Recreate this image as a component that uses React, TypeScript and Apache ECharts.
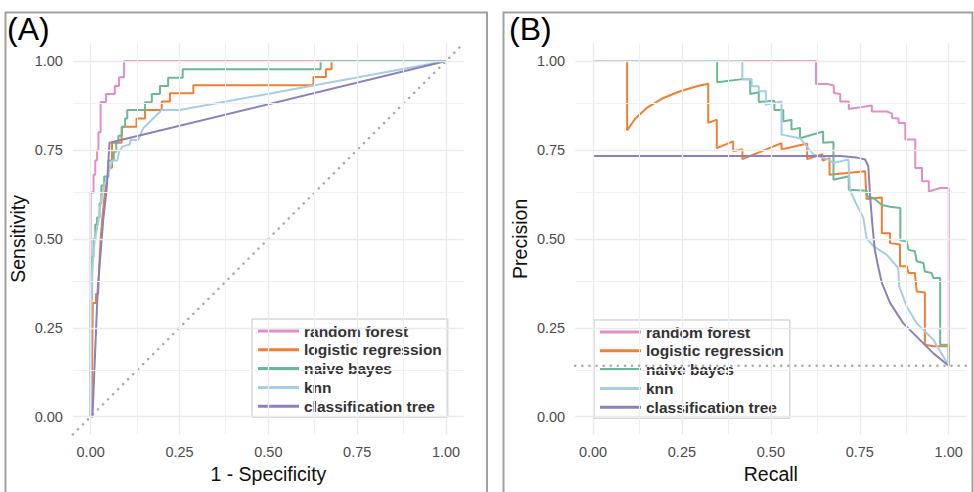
import React, { useEffect, useRef } from "react";
import * as echarts from "echarts";

const modelNames = ["random forest", "logistic regression", "naive bayes", "knn", "classification tree"];
const modelColors = ["#df8fc3", "#f07f34", "#6db894", "#a6cde3", "#8e80ba"];

const majorTicks = [0, 0.25, 0.5, 0.75, 1];
const minorTicks = [0.125, 0.375, 0.625, 0.875];
const prBaseline = 0.143;

// Panel A: ROC curves [1 - specificity, sensitivity]
const rocRf: [number, number][] = [
  [0, 0], [0, 0.63], [0.008, 0.63], [0.008, 0.68], [0.013, 0.68], [0.013, 0.72], [0.018, 0.72], [0.018, 0.75],
  [0.022, 0.75], [0.022, 0.8], [0.028, 0.8], [0.028, 0.885], [0.043, 0.885], [0.043, 0.907], [0.068, 0.907],
  [0.068, 0.93], [0.08, 0.93], [0.08, 0.954], [0.094, 0.954], [0.094, 1], [1, 1],
];
const rocLogit: [number, number][] = [
  [0, 0], [0.003, 0.05], [0.006, 0.32], [0.015, 0.32], [0.015, 0.345], [0.021, 0.345], [0.024, 0.42], [0.028, 0.5],
  [0.033, 0.56], [0.04, 0.63], [0.048, 0.68], [0.052, 0.7], [0.06, 0.7], [0.06, 0.77], [0.087, 0.77], [0.087, 0.815],
  [0.129, 0.815], [0.129, 0.838], [0.153, 0.838], [0.153, 0.862], [0.2, 0.862], [0.2, 0.886], [0.223, 0.886],
  [0.223, 0.909], [0.289, 0.909], [0.289, 0.932], [0.627, 0.932], [0.627, 0.955], [0.662, 0.955], [0.662, 0.977],
  [0.678, 0.977], [0.678, 1], [1, 1],
];
const rocNb: [number, number][] = [
  [0, 0], [0, 0.33], [0.004, 0.33], [0.004, 0.45], [0.008, 0.45], [0.008, 0.5], [0.013, 0.5], [0.013, 0.54],
  [0.018, 0.54], [0.018, 0.56], [0.025, 0.56], [0.025, 0.6], [0.03, 0.6], [0.03, 0.65], [0.038, 0.65], [0.038, 0.675],
  [0.05, 0.675], [0.05, 0.72], [0.065, 0.72], [0.065, 0.745], [0.072, 0.745], [0.072, 0.77], [0.078, 0.77],
  [0.078, 0.79], [0.088, 0.79], [0.088, 0.815], [0.097, 0.815], [0.097, 0.838], [0.103, 0.838], [0.103, 0.862],
  [0.153, 0.862], [0.153, 0.884], [0.172, 0.884], [0.172, 0.907], [0.195, 0.907], [0.195, 0.93], [0.218, 0.93],
  [0.218, 0.953], [0.259, 0.953], [0.259, 0.977], [0.647, 0.977], [0.647, 1], [1, 1],
];
const rocKnn: [number, number][] = [
  [0, 0], [0.002, 0.3], [0.004, 0.4], [0.008, 0.46], [0.012, 0.5], [0.02, 0.54], [0.028, 0.6], [0.035, 0.64],
  [0.045, 0.67], [0.055, 0.7], [0.06, 0.72], [0.075, 0.72], [0.08, 0.745], [0.09, 0.76], [0.11, 0.765],
  [0.112, 0.778], [0.134, 0.778], [0.148, 0.811], [0.2, 0.862], [0.251, 0.862], [1, 1],
];
const rocTree: [number, number][] = [
  [0, 0], [0.005, 0], [0.02, 0.36], [0.035, 0.55], [0.045, 0.64], [0.053, 0.77], [1, 1],
];

// Panel B: precision-recall curves [recall, precision]
const prRf: [number, number][] = [
  [0, 1], [0.627, 1], [0.627, 0.935], [0.66, 0.935], [0.677, 0.931], [0.677, 0.91], [0.695, 0.907], [0.695, 0.886],
  [0.719, 0.886], [0.719, 0.865], [0.784, 0.875], [0.784, 0.858], [0.827, 0.858], [0.841, 0.852], [0.841, 0.84],
  [0.859, 0.838], [0.859, 0.826], [0.878, 0.826], [0.878, 0.779], [0.906, 0.779], [0.906, 0.699], [0.925, 0.699],
  [0.925, 0.662], [0.944, 0.662], [0.944, 0.633], [0.976, 0.643], [1, 0.643], [1, 0.143],
];
const prLogit: [number, number][] = [
  [0, 1], [0.096, 1], [0.096, 0.805], [0.118, 0.837], [0.151, 0.868], [0.198, 0.896], [0.245, 0.915], [0.292, 0.929],
  [0.324, 0.936], [0.324, 0.826], [0.348, 0.835], [0.348, 0.755], [0.394, 0.774], [0.394, 0.746], [0.42, 0.752],
  [0.42, 0.724], [0.53, 0.769], [0.53, 0.751], [0.602, 0.768], [0.602, 0.724], [0.645, 0.738], [0.645, 0.72],
  [0.665, 0.727], [0.665, 0.68], [0.765, 0.69], [0.769, 0.612], [0.812, 0.616], [0.812, 0.516], [0.835, 0.516],
  [0.835, 0.488], [0.863, 0.484], [0.863, 0.423], [0.882, 0.423], [0.887, 0.404], [0.905, 0.404], [0.91, 0.352],
  [0.933, 0.349], [0.933, 0.202], [0.957, 0.198], [1, 0.198], [1, 0.143],
];
const prNb: [number, number][] = [
  [0, 1], [0.349, 1], [0.349, 0.94], [0.42, 0.949], [0.442, 0.949], [0.442, 0.907], [0.466, 0.912], [0.466, 0.885],
  [0.51, 0.888], [0.51, 0.862], [0.535, 0.862], [0.535, 0.83], [0.558, 0.835], [0.558, 0.807], [0.582, 0.812],
  [0.582, 0.783], [0.647, 0.802], [0.647, 0.77], [0.676, 0.772], [0.676, 0.666], [0.719, 0.676], [0.719, 0.638],
  [0.77, 0.635], [0.77, 0.619], [0.789, 0.615], [0.812, 0.595], [0.835, 0.59], [0.864, 0.587], [0.864, 0.495],
  [0.882, 0.493], [0.887, 0.469], [0.905, 0.465], [0.91, 0.437], [0.929, 0.432], [0.933, 0.408], [0.952, 0.404],
  [0.957, 0.39], [0.976, 0.39], [0.976, 0.202], [1, 0.202], [1, 0.143],
];
const prKnn: [number, number][] = [
  [0, 1], [0.42, 1], [0.42, 0.949], [0.446, 0.949], [0.446, 0.929], [0.466, 0.929], [0.466, 0.915], [0.486, 0.915],
  [0.486, 0.877], [0.53, 0.886], [0.53, 0.793], [0.582, 0.783], [0.62, 0.737], [0.662, 0.723], [0.676, 0.713],
  [0.718, 0.723], [0.722, 0.638], [0.737, 0.605], [0.76, 0.559], [0.769, 0.502], [0.788, 0.48], [0.826, 0.455],
  [0.858, 0.418], [0.861, 0.366], [0.882, 0.31], [0.91, 0.263], [0.957, 0.216], [1, 0.143],
];
const prTree: [number, number][] = [
  [0, 0.733], [0.695, 0.733], [0.74, 0.729], [0.765, 0.723], [0.774, 0.704], [0.779, 0.62], [0.785, 0.545],
  [0.792, 0.47], [0.8, 0.43], [0.812, 0.376], [0.835, 0.32], [0.872, 0.263], [0.919, 0.216], [0.957, 0.178],
  [1, 0.143],
];

const rocSets = [rocRf, rocLogit, rocNb, rocKnn, rocTree];
const prSets = [prRf, prLogit, prNb, prKnn, prTree];

const FONT = "'Liberation Sans', Arial, sans-serif";
const LO = -0.05;
const HI = 1.05;

export default function App() {
  const ref = useRef<HTMLDivElement>(null);

  useEffect(() => {
    document.body.style.margin = "0";
    const chart = echarts.init(ref.current!, null, { renderer: "svg" });

    const gridLines = [
      ...majorTicks.map((v) => ({ xAxis: v, lineStyle: { color: "#ebebeb", width: 1.3, type: "solid" } })),
      ...minorTicks.map((v) => ({ xAxis: v, lineStyle: { color: "#f0f0f0", width: 1, type: "solid" } })),
      ...majorTicks.map((v) => ({ yAxis: v, lineStyle: { color: "#ebebeb", width: 1.3, type: "solid" } })),
      ...minorTicks.map((v) => ({ yAxis: v, lineStyle: { color: "#f0f0f0", width: 1, type: "solid" } })),
    ];

    const axisLabel = {
      customValues: majorTicks,
      formatter: (v: number) => v.toFixed(2),
      color: "#4d4d4d",
      fontSize: 14.5,
      fontFamily: FONT,
      margin: 10,
    };

    const mkX = (gi: number, name: string) => ({
      gridIndex: gi,
      type: "value",
      min: LO,
      max: HI,
      axisLine: { show: false },
      axisTick: { show: false },
      splitLine: { show: false },
      axisLabel,
      name,
      nameLocation: "middle",
      nameGap: 29,
      nameTextStyle: { color: "#111", fontSize: 19.5, fontFamily: FONT },
    });
    const mkY = (gi: number, name: string) => ({
      gridIndex: gi,
      type: "value",
      min: LO,
      max: HI,
      axisLine: { show: false },
      axisTick: { show: false },
      splitLine: { show: false },
      axisLabel,
      name,
      nameLocation: "middle",
      nameGap: 45,
      nameTextStyle: { color: "#111", fontSize: 19.5, fontFamily: FONT },
    });

    const gridSeries = (gi: number) => ({
      type: "line",
      name: "grid" + gi,
      xAxisIndex: gi,
      yAxisIndex: gi,
      data: [],
      silent: true,
      z: 1,
      markLine: { silent: true, symbol: "none", label: { show: false }, data: gridLines },
    });

    const dotted = { color: "#a9a9a9", width: 2.5, type: [0.1, 7], cap: "round" };

    const curveSeries = (gi: number, sets: [number, number][][]) =>
      sets.map((d, i) => ({
        type: "line",
        name: modelNames[i],
        xAxisIndex: gi,
        yAxisIndex: gi,
        data: d,
        showSymbol: false,
        symbol: "none",
        silent: true,
        z: 3,
        lineStyle: { color: modelColors[i], width: 2 },
        itemStyle: { color: modelColors[i] },
      }));

    const mkLegend = (left: number, top: number) => ({
      left,
      top,
      orient: "vertical",
      data: modelNames,
      icon: "rect",
      itemWidth: 41,
      itemHeight: 3,
      itemGap: 2.8,
      padding: [4, 6, 3, 6],
      borderColor: "#c4c4c4",
      borderWidth: 1,
      backgroundColor: "#ffffff",
      selectedMode: false,
      textStyle: { fontSize: 15.5, fontWeight: "bold", color: "#333333", fontFamily: FONT },
    });

    const option = {
      animation: false,
      textStyle: { fontFamily: FONT },
      grid: [
        { left: 72.9, top: 43.2, width: 390.9, height: 391.3 },
        { left: 575.2, top: 43.2, width: 391.3, height: 391.3 },
      ],
      xAxis: [mkX(0, "1 - Specificity"), mkX(1, "Recall")],
      yAxis: [mkY(0, "Sensitivity"), mkY(1, "Precision")],
      legend: [mkLegend(252, 319), mkLegend(594, 320)],
      graphic: [
        {
          type: "rect",
          shape: { x: 5.5, y: 12.5, width: 481.5, height: 500 },
          style: { fill: "none", stroke: "#a0a0a0", lineWidth: 2 },
          silent: true,
          z: 10,
        },
        {
          type: "rect",
          shape: { x: 503.5, y: 12.5, width: 469, height: 500 },
          style: { fill: "none", stroke: "#a0a0a0", lineWidth: 2 },
          silent: true,
          z: 10,
        },
        { type: "text", x: 7, y: 13, style: { text: "(A)", font: `32px ${FONT}`, fill: "#000" }, z: 10 },
        { type: "text", x: 509, y: 13, style: { text: "(B)", font: `32px ${FONT}`, fill: "#000" }, z: 10 },
      ],
      series: [
        gridSeries(0),
        gridSeries(1),
        {
          type: "line",
          name: "diagonal",
          xAxisIndex: 0,
          yAxisIndex: 0,
          data: [[LO, LO], [HI, HI]],
          showSymbol: false,
          symbol: "none",
          silent: true,
          z: 2,
          lineStyle: dotted,
        },
        ...curveSeries(0, rocSets),
        ...curveSeries(1, prSets),
        {
          type: "line",
          name: "baseline",
          xAxisIndex: 1,
          yAxisIndex: 1,
          data: [[LO, prBaseline], [HI, prBaseline]],
          showSymbol: false,
          symbol: "none",
          silent: true,
          z: 5,
          lineStyle: dotted,
        },
      ],
    };

    chart.setOption(option as any);
    return () => chart.dispose();
  }, []);

  return <div ref={ref} style={{ width: 974, height: 492 }} />;
}
